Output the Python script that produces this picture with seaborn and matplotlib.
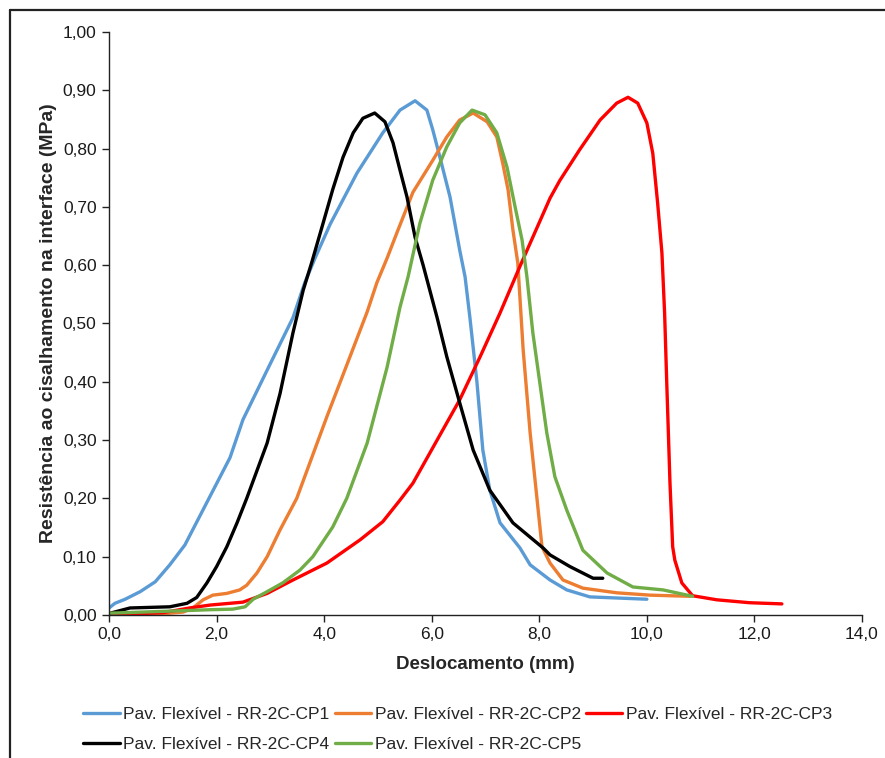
import numpy as np
import pandas as pd
import matplotlib
matplotlib.use("Agg")
import matplotlib.pyplot as plt
from matplotlib.ticker import FuncFormatter, MultipleLocator
from matplotlib.lines import Line2D
import seaborn as sns

# ----------------------- Data
labels = [
    "Pav. Flexível - RR-2C-CP1",
    "Pav. Flexível - RR-2C-CP2",
    "Pav. Flexível - RR-2C-CP3",
    "Pav. Flexível - RR-2C-CP4",
    "Pav. Flexível - RR-2C-CP5",
]
colors = ["#5B9BD5", "#ED7D31", "#FF0000", "#000000", "#70AD47"]

cp1_x = [0.0, 0.11, 0.30, 0.58, 0.86, 1.13, 1.41, 1.69, 1.97, 2.25, 2.49, 2.94, 3.42, 3.64, 3.83,
         4.11, 4.61, 5.09, 5.41, 5.69, 5.91, 6.02, 6.15, 6.34, 6.52, 6.62, 6.71, 6.84, 6.95,
         7.08, 7.27, 7.64, 7.83, 8.20, 8.51, 8.94, 10.0]
cp1_y = [0.012, 0.020, 0.027, 0.040, 0.057, 0.086, 0.120, 0.170, 0.220, 0.270, 0.335, 0.420, 0.510,
         0.570, 0.612, 0.670, 0.758, 0.827, 0.866, 0.882, 0.866, 0.832, 0.786, 0.717, 0.626,
         0.580, 0.510, 0.400, 0.283, 0.214, 0.158, 0.115, 0.086, 0.060, 0.043, 0.031, 0.027]

cp2_x = [0.0, 1.0, 1.38, 1.56, 1.75, 1.93, 2.19, 2.43, 2.56, 2.75, 2.94, 3.18, 3.49, 4.05, 4.48,
         4.80, 4.98, 5.17, 5.35, 5.65, 6.02, 6.28, 6.52, 6.77, 7.03, 7.21, 7.32, 7.42, 7.51,
         7.60, 7.70, 7.83, 7.96, 8.05, 8.20, 8.44, 8.81, 9.44, 10.06, 10.8]
cp2_y = [0.0, 0.002, 0.005, 0.012, 0.026, 0.034, 0.037, 0.043, 0.051, 0.072, 0.100, 0.146, 0.200,
         0.340, 0.443, 0.520, 0.570, 0.612, 0.655, 0.725, 0.780, 0.820, 0.849, 0.861, 0.846,
         0.820, 0.775, 0.729, 0.660, 0.604, 0.455, 0.312, 0.197, 0.117, 0.089, 0.060, 0.046,
         0.038, 0.034, 0.032]

cp3_x = [0.0, 1.0, 1.50, 1.88, 2.49, 2.94, 3.42, 4.05, 4.67, 5.09, 5.41, 5.65, 6.10, 6.52, 6.90,
         7.27, 7.64, 8.20, 8.38, 8.75, 9.13, 9.44, 9.65, 9.83, 10.0, 10.11, 10.20, 10.28, 10.33,
         10.37, 10.43, 10.48, 10.52, 10.65, 10.85, 11.30, 11.91, 12.51]
cp3_y = [0.0, 0.004, 0.012, 0.017, 0.022, 0.037, 0.060, 0.089, 0.129, 0.160, 0.197, 0.226, 0.300,
         0.369, 0.443, 0.518, 0.598, 0.715, 0.745, 0.798, 0.849, 0.878, 0.888, 0.878, 0.844,
         0.792, 0.707, 0.621, 0.518, 0.398, 0.226, 0.117, 0.094, 0.055, 0.033, 0.026, 0.021, 0.019]

cp4_x = [0.02, 0.39, 0.76, 1.13, 1.45, 1.63, 1.82, 2.00, 2.19, 2.38, 2.56, 2.94, 3.18, 3.42, 3.61,
         3.77, 3.98, 4.16, 4.35, 4.54, 4.72, 4.94, 5.13, 5.28, 5.41, 5.54, 5.69, 5.84, 6.10,
         6.28, 6.52, 6.77, 7.08, 7.51, 8.07, 8.20, 8.57, 9.00, 9.18]
cp4_y = [0.003, 0.012, 0.013, 0.014, 0.020, 0.030, 0.055, 0.083, 0.117, 0.158, 0.200, 0.295, 0.380,
         0.484, 0.557, 0.605, 0.672, 0.730, 0.785, 0.827, 0.852, 0.861, 0.846, 0.810, 0.763,
         0.717, 0.648, 0.600, 0.510, 0.443, 0.364, 0.283, 0.214, 0.158, 0.115, 0.103, 0.083,
         0.063, 0.063]

cp5_x = [0.0, 0.63, 1.26, 1.88, 2.30, 2.53, 2.68, 2.94, 3.23, 3.55, 3.79, 4.16, 4.42, 4.80, 5.17,
         5.41, 5.56, 5.78, 6.02, 6.28, 6.52, 6.75, 6.99, 7.21, 7.40, 7.55, 7.68, 7.77, 7.88,
         8.01, 8.14, 8.29, 8.51, 8.81, 9.26, 9.74, 10.3, 10.85]
cp5_y = [0.003, 0.005, 0.007, 0.009, 0.010, 0.014, 0.027, 0.040, 0.055, 0.077, 0.100, 0.151, 0.200,
         0.295, 0.425, 0.528, 0.580, 0.672, 0.746, 0.803, 0.844, 0.866, 0.858, 0.827, 0.768,
         0.700, 0.643, 0.580, 0.484, 0.398, 0.312, 0.237, 0.180, 0.111, 0.072, 0.048, 0.043, 0.032]

series_x = [cp1_x, cp2_x, cp3_x, cp4_x, cp5_x]
series_y = [cp1_y, cp2_y, cp3_y, cp4_y, cp5_y]

# ----------------------- Long format for seaborn
frames = []
for lab, xs, ys in zip(labels, series_x, series_y):
    frames.append(pd.DataFrame({"x": xs, "y": ys, "serie": lab}))
df = pd.concat(frames, ignore_index=True)

# ----------------------- Plot
sns.set_theme(style="white")
plt.rcParams["font.family"] = ["Liberation Sans", "DejaVu Sans"]

fig = plt.figure(figsize=(8.85, 7.58), dpi=100)
ax = fig.add_axes([0.1232, 0.1887, 0.8508, 0.7691])

sns.lineplot(
    data=df, x="x", y="y", hue="serie", hue_order=labels,
    palette=dict(zip(labels, colors)), sort=False, estimator=None,
    linewidth=2.4, ax=ax, legend=False
)

ax.set_xlim(0, 14)
ax.set_ylim(0, 1.0)
ax.xaxis.set_major_locator(MultipleLocator(2))
ax.yaxis.set_major_locator(MultipleLocator(0.1))
ax.xaxis.set_major_formatter(FuncFormatter(lambda v, p: f"{v:.1f}".replace(".", ",")))
ax.yaxis.set_major_formatter(FuncFormatter(lambda v, p: f"{v:.2f}".replace(".", ",")))

for side in ["top", "right"]:
    ax.spines[side].set_visible(False)
for side in ["left", "bottom"]:
    ax.spines[side].set_color("#222222")
    ax.spines[side].set_linewidth(1.0)

ax.tick_params(axis="both", direction="out", length=5, width=1.0, color="#222222",
               labelsize=12.5, labelcolor="#1a1a1a", pad=4, bottom=True, left=True)

ax.set_xlabel("Deslocamento (mm)", fontsize=13.5, fontweight="bold", labelpad=10)
ax.set_ylabel("Resistência ao cisalhamento na interface (MPa)", fontsize=14,
              fontweight="bold", labelpad=4)

# Excel fills the legend row by row; matplotlib fills by column, so reorder
handles = [Line2D([0], [0], color=c, lw=2.4) for c in colors]
order = [0, 3, 1, 4, 2]
fig.legend([handles[i] for i in order], [labels[i] for i in order],
           loc="upper left", bbox_to_anchor=(0.094, 0.068),
           ncol=3, frameon=False, fontsize=12.5, handlelength=2.1, handletextpad=0.2,
           columnspacing=0.3, labelspacing=0.9, borderaxespad=0, borderpad=0)

# outer frame (partially cropped, as in the reference)
fig.add_artist(Line2D([10 / 885, 10 / 885], [0, 1 - 10 / 758], transform=fig.transFigure,
                      color="#222222", lw=1.6))
fig.add_artist(Line2D([10 / 885, 1], [1 - 10 / 758, 1 - 10 / 758], transform=fig.transFigure,
                      color="#222222", lw=1.6))

fig.savefig("out.png", dpi=100)
